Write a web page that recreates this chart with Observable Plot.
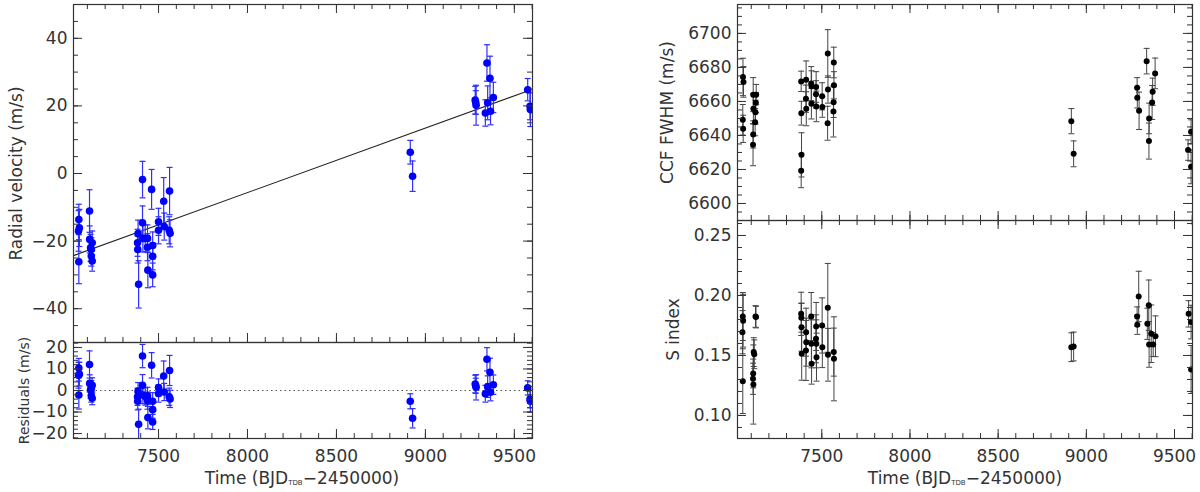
<!DOCTYPE html>
<html><head><meta charset="utf-8">
<script src="https://cdn.jsdelivr.net/npm/d3@7"></script>
<script src="https://cdn.jsdelivr.net/npm/@observablehq/plot@0.6"></script>
<style>
body{margin:0;background:#fff;}
#wrap{position:relative;width:1200px;height:492px;overflow:hidden;font-family:"DejaVu Sans",sans-serif;background:#fff;}
.panel{position:absolute;}
.xt{position:absolute;font-size:17px;line-height:20px;color:#333;white-space:nowrap;transform:translateX(-50%);}
.xt sub{font-size:7px;vertical-align:baseline;position:relative;top:1px;letter-spacing:0;}
</style></head><body><div id="wrap"></div>
<script>
// ---- data ----
const rvTime = [7052,7055,7050,7052, 7112,7113,7118,7122,7127,7122,7127,
  7385,7382,7383,7388,7410,7410,7412,7425,7438,7438,7440,7461,7467,7467,7467,
  7500,7500,7529,7532,7562,7560,7565, 8915,8928,
  9280,9283,9285,9337,9346,9350,9363,9366,9382,9575,9588,9590];
const rvValue = [-13.6,-16.1,-17.0,-26.1, -11.1,-19.5,-22.0,-22.5,-20.5,-24.4,-25.9,
  -17.8,-20.5,-22.5,-32.8,-1.8,-14.6,-19.2,-19.2,-19.2,-21.8,-28.6,-4.7,-21.3,-24.5,-30.0,
  -14.3,-16.8,-8.2,-15.7,-5.2,-16.8,-17.7, 6.3,-0.8,
  21.7,21.0,20.2,17.9,32.7,20.9,28.2,18.4,22.5,24.8,19.9,18.9];
const rvError = [4.5,5.5,6.0,6.5, 6.3,4.0,4.0,3.5,3.5,3.0,3.0,
  4.0,4.0,4.0,7.0,5.4,5.0,4.0,4.0,4.0,4.0,5.2,5.9,4.0,4.0,3.5,
  4.0,4.0,7.0,4.0,7.0,4.0,4.0, 3.5,4.5,
  4.1,3.5,5.9,3.9,5.4,5.0,6.5,4.0,4.5,3.3,4.0,5.0];
const rvResidual = [10.4,7.6,7.1,-2.1, 12.1,3.3,0.3,1.1,2.4,-2.4,-3.6,
  -0.3,-2.9,-5.0,-15.7,16.0,2.4,-2.1,-2.8,-2.5,-4.7,-12.6,11.7,-5.0,-8.9,-14.6,
  1.4,-1.4,6.7,-0.7,9.3,-2.9,-3.9, -5.0,-12.9,
  3.0,2.2,1.5,-1.5,14.5,1.8,8.5,-0.8,2.7,1.2,-4.0,-5.0];
const trendTime = [7022, 9575];
const trendValue = [-24.3, 24.4];

const fwhmTime = [7053,7056,7052,7054, 7111,7112,7111,7110,7128,7126,7124,7122,
  7383,7384,7385,7383, 7411,7410,7412, 7440,7442,7441, 7468,7467,7469, 7502,7503,
  7534,7535,7533, 7568,7569,7567,7566, 8915,8928,
  9288,9289,9299,9342,9356,9355,9373,9376,9390, 9577,9594,9594];
const fwhmValue = [6674.4,6671.5,6649.2,6643.9, 6664.0,6655.7,6640.6,6634.6,6664.0,6659.3,6653.7,6647.8,
  6671.8,6653.1,6628.6,6619.3, 6672.8,6661.6,6655.7, 6670.5,6669.0,6658.7, 6668.5,6664.2,6657.1, 6663.0,6656.7,
  6688.2,6667.0,6647.2, 6682.9,6669.5,6659.6,6654.1, 6648.4,6629.2,
  6668.0,6662.2,6654.5,6683.7,6650.0,6636.7,6659.4,6665.7,6676.5, 6631.4,6642.2,6621.6];
const fwhmError = [11,9,9,8, 10,9,8,12.4,6,6,7,8,
  6,7,13,10, 11,8,10, 10,9,9, 9,8,9, 8,6,
  14,8,10, 9,8,9,15, 7.4,7.6,
  6,6,11,7.5,9,10.6,10,8,9, 6,7,10];

const sTime = [7052,7054,7050,7052, 7111,7110,7112,7114,7117,7124,7127,
  7383,7384,7385,7386, 7411,7412,7410, 7440,7441,7442, 7468,7467,7469,7470, 7502,7503,
  7534,7535, 7568,7569, 8915,8928,
  9288,9289,9297,9346,9354,9356,9368,9379,9392, 9580,9594,9594];
const sValue = [0.1825,0.179,0.1694,0.1286, 0.135,0.1306,0.1258,0.1528,0.151,0.1825,0.182,
  0.1847,0.1814,0.1736,0.1514, 0.1694,0.1611,0.1542, 0.1825,0.1597,0.1431, 0.1742,0.1639,0.1597,0.1486, 0.175,0.1569,
  0.1897,0.1506, 0.1528,0.1472, 0.1569,0.1575,
  0.1825,0.1756,0.1992,0.1764,0.1919,0.1592,0.1681,0.1592,0.166, 0.1847,0.1778,0.1383];
const sError = [0.02,0.022,0.018,0.027, 0.012,0.013,0.033,0.012,0.012,0.009,0.009,
  0.018,0.012,0.02,0.022, 0.02,0.02,0.025, 0.02,0.02,0.017, 0.02,0.02,0.02,0.02, 0.023,0.017,
  0.037,0.022, 0.02,0.035, 0.012,0.012,
  0.008,0.008,0.021,0.013,0.021,0.019,0.024,0.01,0.017, 0.011,0.014,0.02];

// axes / ticks
const xDomain = [7022, 9602];
const xMajor = [7500, 8000, 8500, 9000, 9500];
const xMinor = d3.range(7100, 9601, 100);
const rvDomain = [-50, 50];
const rvMajor = [-40, -20, 0, 20, 40];
const rvMinor = d3.range(-50, 51, 5);
const resDomain = [-22.3, 22.3];
const resMajor = [-20, -10, 0, 10, 20];
const resMinor = d3.range(-22, 23, 2);
const fwhmDomain = [6590, 6717];
const fwhmMajor = [6600, 6620, 6640, 6660, 6680, 6700];
const fwhmMinor = d3.range(6590, 6716, 5);
const sDomain = [0.0808, 0.2625];
const sMajor = [0.10, 0.15, 0.20, 0.25];
const sMinor = d3.range(9, 27).map(d => d / 100);

const axisColor = "#333";
const minus = d => d < 0 ? "\u2212" + Math.abs(d) : String(d);

const cap = {draw(ctx, size) { const r = Math.sqrt(size / Math.PI); ctx.moveTo(-r, 0); ctx.lineTo(r, 0); }};

function errMarks(rows, color, dotFill, dotR, bw) {
  return [
    Plot.ruleX(rows, {x: "t", y1: d => d.v - d.e, y2: d => d.v + d.e, stroke: color, strokeWidth: bw, clip: true}),
    Plot.dot(rows, {x: "t", y: d => d.v + d.e, symbol: cap, r: 3, stroke: color, strokeWidth: bw, clip: true}),
    Plot.dot(rows, {x: "t", y: d => d.v - d.e, symbol: cap, r: 3, stroke: color, strokeWidth: bw, clip: true}),
    Plot.dot(rows, {x: "t", y: "v", r: dotR, fill: dotFill, stroke: "none", clip: true})
  ];
}

function makePanel(cfg) {
  const {width, height, mt, mb, ml, mr} = cfg;
  const fw = width - ml - mr, fh = height - mt - mb;
  const inY = d => d >= cfg.yDomain[0] - 1e-9 && d <= cfg.yDomain[1] + 1e-9;
  const yMin = cfg.yMinor.filter(inY);
  const tk = {stroke: axisColor, strokeWidth: 1};
  const marks = [];
  marks.push(...cfg.marks);
  if (cfg.bottomTicks) marks.push(
    Plot.tickX(xMinor, {x: d => d, insetTop: fh - 5, ...tk}),
    Plot.tickX(xMajor, {x: d => d, insetTop: fh - 9, ...tk}));
  if (cfg.topTicks) marks.push(
    Plot.tickX(xMinor, {x: d => d, insetBottom: fh - 5, ...tk}),
    Plot.tickX(xMajor, {x: d => d, insetBottom: fh - 9, ...tk}));
  marks.push(
    Plot.tickY(yMin, {y: d => d, insetRight: fw - 5, ...tk}),
    Plot.tickY(cfg.yMajor, {y: d => d, insetRight: fw - 9, ...tk}),
    Plot.tickY(yMin, {y: d => d, insetLeft: fw - 5, ...tk}),
    Plot.tickY(cfg.yMajor, {y: d => d, insetLeft: fw - 9, ...tk}),
    Plot.axisY(cfg.yMajor, {anchor: "left", tickSize: 0, tickPadding: 6, tickFormat: cfg.yFormat, label: null, fontSize: cfg.tickFont || 17, fill: axisColor}),
    Plot.text([cfg.yLabel], {frameAnchor: "left", textAnchor: "middle", lineAnchor: "middle", rotate: -90, dx: -cfg.labelOffset, text: d => d, fontSize: cfg.labelSize || 17, fill: axisColor}),
    Plot.frame({stroke: axisColor, strokeWidth: 1.2})
  );
  if (cfg.xLabels) marks.push(
    Plot.axisX(xMajor, {anchor: "bottom", tickSize: 0, tickPadding: 11, tickFormat: d => String(d), label: null, fontSize: 17, fill: axisColor}));
  const svg = Plot.plot({
    width, height, marginTop: mt, marginBottom: mb, marginLeft: ml, marginRight: mr,
    x: {domain: xDomain, axis: cfg.xLabels ? undefined : null},
    y: {domain: cfg.yDomain},
    style: {fontFamily: "'DejaVu Sans', sans-serif", fontSize: "17px", color: axisColor, overflow: "visible", background: "transparent"},
    marks
  });
  svg.classList.add("panel");
  svg.style.left = cfg.left + "px";
  svg.style.top = cfg.top + "px";
  svg.style.position = "absolute";
  svg.style.maxWidth = "none";
  document.getElementById("wrap").appendChild(svg);
}

const rvRows = rvTime.map((t, i) => ({t, v: rvValue[i], e: rvError[i]}));
const resRows = rvTime.map((t, i) => ({t, v: rvResidual[i], e: rvError[i]}));
const trendRows = trendTime.map((t, i) => ({t, v: trendValue[i]}));
const fwhmRows = fwhmTime.map((t, i) => ({t, v: fwhmValue[i], e: fwhmError[i]}));
const sRows = sTime.map((t, i) => ({t, v: sValue[i], e: sError[i]}));

const blueBar = "#2f2fff";

makePanel({left: 0, top: 0, width: 560, height: 342, mt: 4, mb: 0, ml: 73, mr: 28,
  yDomain: rvDomain, yMajor: rvMajor, yMinor: rvMinor, yFormat: minus,
  yLabel: "Radial velocity (m/s)", labelOffset: 57, topTicks: true, bottomTicks: true, xLabels: false,
  marks: [Plot.line(trendRows, {x: "t", y: "v", stroke: "#222", strokeWidth: 1.1}), ...errMarks(rvRows, blueBar, "#0000ff", 3.8, 1.2)]});

makePanel({left: 0, top: 342, width: 560, height: 150, mt: 0, mb: 54, ml: 73, mr: 28,
  yDomain: resDomain, yMajor: resMajor, yMinor: resMinor, yFormat: minus,
  yLabel: "Residuals (m/s)", labelOffset: 49, labelSize: 14, topTicks: false, bottomTicks: true, xLabels: true,
  marks: [Plot.ruleY([0], {stroke: "#555", strokeDasharray: "1.5,3", strokeWidth: 1}), ...errMarks(resRows, blueBar, "#0000ff", 3.8, 1.2)]});

makePanel({left: 640, top: 0, width: 560, height: 220, mt: 4, mb: 0, ml: 97, mr: 8,
  yDomain: fwhmDomain, yMajor: fwhmMajor, yMinor: fwhmMinor, yFormat: d => String(d),
  yLabel: "CCF FWHM (m/s)", labelOffset: 70, topTicks: true, bottomTicks: true, xLabels: false,
  marks: errMarks(fwhmRows, "#444", "#000", 3, 1)});

makePanel({left: 640, top: 220, width: 560, height: 272, mt: 0, mb: 54, ml: 97, mr: 8,
  yDomain: sDomain, yMajor: sMajor, yMinor: sMinor, yFormat: d3.format(".2f"),
  yLabel: "S index", labelOffset: 64, topTicks: true, bottomTicks: true, xLabels: true,
  marks: errMarks(sRows, "#444", "#000", 3, 1)});

// x-axis titles (with subscript)
const xTitleHTML = "Time (BJD<sub>TDB</sub>\u22122450000)";
[{c: 302}, {c: 965}].forEach(p => {
  const d = document.createElement("div");
  d.className = "xt";
  d.style.left = p.c + "px";
  d.style.top = "468px";
  d.innerHTML = xTitleHTML;
  document.getElementById("wrap").appendChild(d);
});
</script>
</body></html>
